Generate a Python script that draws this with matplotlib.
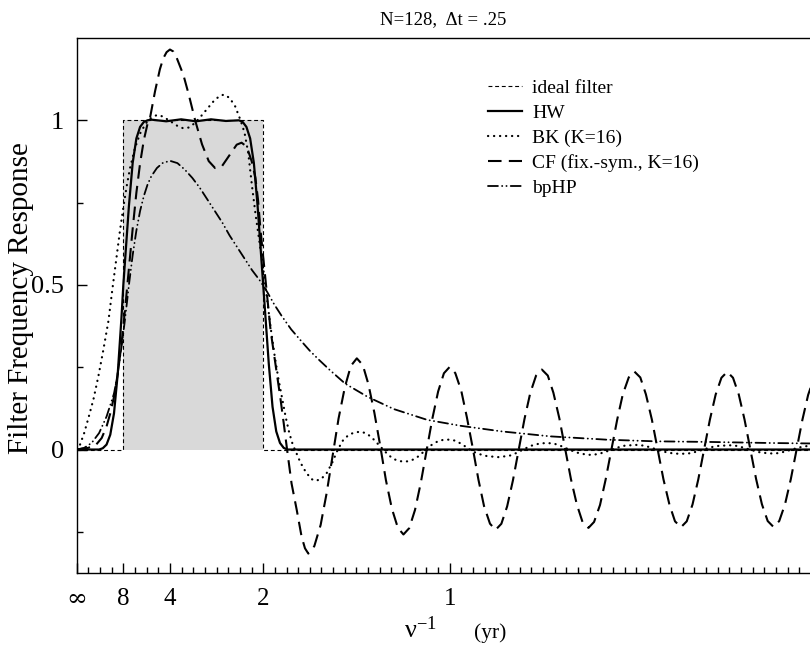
#Filter frequency response chart
import numpy as np
import matplotlib.pyplot as plt

plt.rcParams['font.family'] = ['Liberation Serif', 'DejaVu Serif']
plt.rcParams['mathtext.fontset'] = 'custom'
plt.rcParams['mathtext.rm'] = 'Liberation Serif'
plt.rcParams['mathtext.it'] = 'Liberation Serif:italic'

#frequency nu in cycles/yr, tick labels are the period 1/nu
tick_freq = [0, 1/8, 1/4, 1/2, 1]
tick_labels = ['∞', '8', '4', '2', '1']

#ideal band-pass: periods 2 to 8 years
ideal_freq = [0, 0.125, 0.125, 0.5, 0.5, 2.0]
ideal_gain = [0, 0, 1, 1, 0, 0]

hw_freq = [0, 0.06, 0.07, 0.08, 0.09, 0.10, 0.11, 0.12, 0.125, 0.13,
           0.14, 0.15, 0.16, 0.17, 0.18, 0.19, 0.20, 0.24, 0.28, 0.32,
           0.36, 0.40, 0.435, 0.445, 0.455, 0.465, 0.475, 0.485, 0.495, 0.50,
           0.505, 0.515, 0.525, 0.535, 0.545, 0.555, 0.565, 0.60, 2.0]
hw_gain = [0, 0, 0.004, 0.015, 0.045, 0.11, 0.23, 0.40, 0.50, 0.58,
           0.74, 0.87, 0.945, 0.98, 0.995, 1.0, 1.002, 0.997, 1.003, 0.997,
           1.003, 0.998, 1.0, 0.995, 0.98, 0.945, 0.87, 0.74, 0.58, 0.50,
           0.42, 0.26, 0.13, 0.055, 0.02, 0.005, 0.0, 0.0, 0.0]

bk_freq = [0, 0.009, 0.02, 0.031, 0.045, 0.058, 0.071, 0.085, 0.096, 0.107,
           0.116, 0.125, 0.134, 0.143, 0.156, 0.17, 0.185, 0.20, 0.215, 0.23,
           0.25, 0.27, 0.285, 0.30, 0.315, 0.33, 0.35, 0.37, 0.385, 0.395,
           0.41, 0.425, 0.44, 0.45, 0.46, 0.47, 0.48, 0.49, 0.50, 0.51,
           0.52, 0.53, 0.54, 0.55, 0.56, 0.57, 0.58, 0.585, 0.60, 0.615,
           0.63, 0.64, 0.655, 0.67, 0.685, 0.70, 0.715, 0.73, 0.745, 0.76,
           0.775, 0.79, 0.805, 0.82, 0.835, 0.85, 0.865, 0.88, 0.895, 0.91,
           0.925, 0.94, 0.955, 0.97, 0.985, 1.00, 1.015, 1.03, 1.045, 1.06,
           1.08, 1.10, 1.13, 1.16, 1.18, 1.20, 1.22, 1.24, 1.26, 1.28,
           1.30, 1.32, 1.34, 1.36, 1.375, 1.39, 1.41, 1.43, 1.45, 1.47,
           1.50, 1.52, 1.54, 1.56, 1.58, 1.60, 1.62, 1.64, 1.66, 1.68,
           1.70, 1.72, 1.75, 1.77, 1.79, 1.81, 1.83, 1.85, 1.865, 1.88,
           1.90, 1.92, 1.94, 1.96, 1.99, 2.0]
bk_gain = [0, 0.015, 0.05, 0.094, 0.153, 0.222, 0.30, 0.39, 0.49, 0.586,
           0.665, 0.735, 0.80, 0.855, 0.915, 0.96, 0.99, 1.008, 1.016, 1.012,
           0.998, 0.983, 0.976, 0.978, 0.99, 1.008, 1.035, 1.062, 1.075, 1.078,
           1.068, 1.042, 0.998, 0.962, 0.90, 0.80, 0.71, 0.63, 0.55, 0.46,
           0.37, 0.29, 0.22, 0.16, 0.10, 0.05, 0.012, 0.0, -0.04, -0.07,
           -0.09, -0.095, -0.09, -0.072, -0.04, 0.0, 0.03, 0.045, 0.052, 0.054,
           0.05, 0.038, 0.02, 0.002, -0.016, -0.029, -0.035, -0.037, -0.034, -0.026,
           -0.012, 0.004, 0.017, 0.026, 0.03, 0.03, 0.027, 0.018, 0.007, -0.005,
           -0.014, -0.02, -0.023, -0.019, -0.01, 0.002, 0.012, 0.018, 0.02, 0.018,
           0.01, 0.0, -0.009, -0.014, -0.016, -0.015, -0.01, -0.002, 0.006, 0.012,
           0.014, 0.012, 0.006, -0.002, -0.008, -0.012, -0.013, -0.012, -0.007, 0.0,
           0.007, 0.011, 0.013, 0.011, 0.005, -0.002, -0.008, -0.011, -0.012, -0.011,
           -0.006, 0.001, 0.007, 0.011, 0.012, 0.012]

cf_freq = [0, 0.03, 0.05, 0.067, 0.08, 0.09, 0.10, 0.11, 0.12, 0.13,
           0.14, 0.15, 0.16, 0.17, 0.18, 0.19, 0.197, 0.21, 0.223, 0.232,
           0.241, 0.25, 0.259, 0.268, 0.286, 0.30, 0.318, 0.336, 0.354, 0.371, 0.389, 0.411,
           0.429, 0.442, 0.456, 0.469, 0.479, 0.486, 0.493, 0.502, 0.511, 0.52,
           0.533, 0.546, 0.555, 0.564, 0.576, 0.59, 0.603, 0.612, 0.621,
           0.637, 0.654, 0.670, 0.686, 0.702, 0.719, 0.735, 0.751,
           0.767, 0.782, 0.798, 0.814, 0.829, 0.845, 0.861, 0.876,
           0.8915, 0.907, 0.9225, 0.938, 0.9535, 0.969, 0.9845, 1.000,
           1.015, 1.031, 1.046, 1.062, 1.077, 1.092, 1.108, 1.123,
           1.1385, 1.154, 1.1695, 1.185, 1.2005, 1.216, 1.2315, 1.247,
           1.263, 1.278, 1.294, 1.3095, 1.325, 1.341, 1.356, 1.372,
           1.387, 1.403, 1.418, 1.4335, 1.449, 1.464, 1.480, 1.495,
           1.511, 1.526, 1.542, 1.5575, 1.573, 1.589, 1.604, 1.620,
           1.6355, 1.651, 1.6665, 1.682, 1.6975, 1.713, 1.7285, 1.744,
           1.7595, 1.775, 1.7905, 1.806, 1.8215, 1.837, 1.8525, 1.868,
           1.8835, 1.899, 1.9145, 1.930, 1.9455, 1.961, 1.9765, 1.992, 2.0]
cf_gain = [0, 0.005, 0.012, 0.035, 0.07, 0.11, 0.16, 0.23, 0.32, 0.43,
           0.55, 0.67, 0.78, 0.87, 0.94, 0.99, 1.01, 1.088, 1.155, 1.188,
           1.207, 1.215, 1.209, 1.19, 1.138, 1.08, 0.998, 0.927, 0.876, 0.855, 0.86, 0.896,
           0.926, 0.932, 0.92, 0.876, 0.826, 0.76, 0.664, 0.562, 0.461, 0.36,
           0.258, 0.157, 0.08, 0.0, -0.103, -0.184, -0.265, -0.30, -0.316,
           -0.2935, -0.229, -0.133, -0.0195, 0.094, 0.190, 0.254, 0.277,
           0.2567, 0.1986, 0.112, 0.0095, -0.093, -0.1796, -0.2377, -0.258,
           -0.2387, -0.1834, -0.101, -0.0035, 0.094, 0.1764, 0.2317, 0.251,
           0.2322, 0.1785, 0.0983, 0.0035, -0.0913, -0.1715, -0.2252, -0.244,
           -0.2255, -0.1727, -0.0938, -0.0005, 0.0928, 0.1717, 0.2245, 0.243,
           0.2247, 0.1725, 0.0946, 0.0025, -0.0896, -0.1675, -0.2197, -0.238,
           -0.22, -0.1684, -0.0915, -0.0005, 0.0905, 0.1674, 0.219, 0.237,
           0.219, 0.1677, 0.0911, 0.0005, -0.0901, -0.1667, -0.218, -0.236,
           -0.218, -0.1669, -0.0904, 0.0, 0.0904, 0.1669, 0.218, 0.236,
           0.2181, 0.167, 0.0907, 0.0005, -0.0897, -0.166, -0.2171, -0.235,
           -0.2171, -0.1661, -0.09, 0.0, 0.09, 0.1661, 0.2171, 0.235, 0.234]

hp_freq = [0, 0.02, 0.04, 0.06, 0.08, 0.10, 0.11, 0.12, 0.13, 0.14,
           0.15, 0.16, 0.17, 0.18, 0.19, 0.20, 0.215, 0.23, 0.25, 0.27,
           0.29, 0.31, 0.33, 0.35, 0.37, 0.39, 0.41, 0.43, 0.45, 0.47,
           0.49, 0.51, 0.53, 0.55, 0.575, 0.60, 0.625, 0.65, 0.68, 0.72,
           0.78, 0.85, 0.94, 1.03, 1.14, 1.27, 1.42, 1.55, 1.70, 1.85, 2.0]
hp_gain = [0, 0.005, 0.02, 0.05, 0.10, 0.17, 0.23, 0.31, 0.40, 0.50,
           0.59, 0.665, 0.725, 0.77, 0.805, 0.83, 0.855, 0.87, 0.877, 0.87,
           0.85, 0.825, 0.795, 0.76, 0.725, 0.69, 0.65, 0.615, 0.58, 0.545,
           0.515, 0.48, 0.44, 0.405, 0.365, 0.332, 0.30, 0.272, 0.24, 0.20,
           0.16, 0.123, 0.09, 0.072, 0.055, 0.04, 0.03, 0.025, 0.023, 0.02, 0.018]

#figure 810x646 px; the axes runs on past the right edge (nu up to 2)
fig = plt.figure(figsize=(8.1, 6.46), dpi=100)
ax = fig.add_axes([76.7/810, 73/646, 746/810, 535/646])

ax.fill_between(ideal_freq[2:4], 0, 1, color='#d9d9d9', lw=0, zorder=1)
ax.plot(ideal_freq, ideal_gain, color='k', lw=0.8, dashes=(3.5, 2.5),
        label='ideal filter', zorder=2)
ax.plot(hw_freq, hw_gain, color='k', lw=1.6, label='HW', zorder=3)
ax.plot(bk_freq, bk_gain, color='k', lw=1.6, linestyle=(0, (0.1, 2.6)),
        dash_capstyle='round', label='BK (K=16)', zorder=3)
ax.plot(cf_freq, cf_gain, color='k', lw=1.5, dashes=(6.5, 3.5),
        label='CF (fix.-sym., K=16)', zorder=3)
ax.plot(hp_freq, hp_gain, color='k', lw=1.3,
        linestyle=(0, (5.5, 2.3, 0.1, 2.3, 0.1, 2.3)), dash_capstyle='round',
        label='bpHP', zorder=3)

ax.set_xlim(0, 2)
ax.set_ylim(-0.375, 1.25)
ax.set_xticks(tick_freq)
ax.set_xticklabels(tick_labels)
ax.set_xticks(np.arange(0, 2.001, 1/32), minor=True)
ax.set_yticks([0, 0.5, 1])
ax.set_yticklabels(['0', '0.5', '1'])
ax.set_yticks([-0.25, 0.25, 0.75], minor=True)
ax.tick_params(which='both', direction='in', top=False, right=False, width=1)
ax.tick_params(which='major', length=7)
ax.tick_params(which='minor', length=4)
ax.tick_params(axis='x', pad=10.5, labelsize=18)
ax.tick_params(axis='y', pad=9, labelsize=19)
#the infinity sign is wider in the reference
ax.get_xticklabels()[0].set_fontfamily('DejaVu Serif')
ax.spines['right'].set_visible(False)
for s in ['left', 'bottom', 'top']:
    ax.spines[s].set_linewidth(1.0)

ax.legend(loc='upper left', bbox_to_anchor=(0.551, 0.9235), frameon=False,
          fontsize=14, handlelength=1.75, handletextpad=0.55,
          labelspacing=0.38, borderpad=0, borderaxespad=0)

fig.text(443/810, 1 - 20/646, 'N=128,  Δt = .25', ha='center', va='center',
         fontsize=13.5)
fig.text(21/810, 1 - 298/646, 'Filter Frequency Response', rotation=90,
         ha='center', va='center', fontsize=21)
fig.text(420/810, 1 - 630/646, 'ν$^{-1}$', ha='center', va='center', fontsize=19)
fig.text(490/810, 1 - 633/646, '(yr)', ha='center', va='center', fontsize=15.5)

fig.savefig('out.png', dpi=100)
